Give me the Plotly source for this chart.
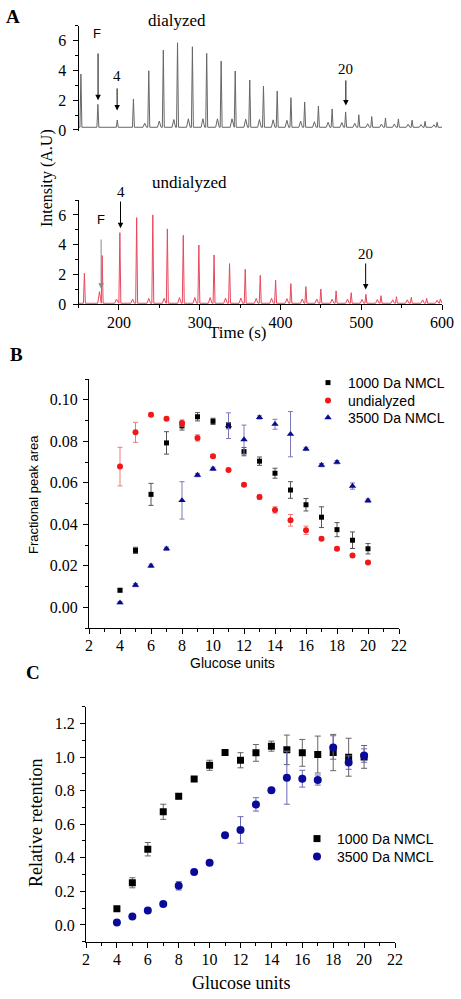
import plotly.graph_objects as go

# ---------------- Panel A data (peak apex times / heights) ----------------
dial_t = [153, 174, 198, 218, 237, 255, 272.6, 291, 308.7, 326.6, 344, 362, 379, 396, 413,
          430, 447, 464, 480.7, 497, 513, 530, 546, 563, 579, 594]
dial_h = [3.76, 1.72, 0.67, 2.08, 3.98, 5.37, 5.86, 5.59, 5.15, 4.63, 3.96, 3.36, 2.95, 2.62,
          2.17, 1.88, 1.61, 1.41, 1.21, 1.02, 0.9, 0.8, 0.74, 0.66, 0.58, 0.52]
dial_small_t = [232, 250, 268, 286, 304, 322, 340, 357, 374, 391, 408, 425, 442, 459, 476,
                492, 508, 525, 541, 558, 574, 590]
dial_small_h = [0.45, 0.6, 0.7, 0.75, 0.75, 0.75, 0.75, 0.72, 0.7, 0.68, 0.65, 0.6, 0.55,
                0.52, 0.5, 0.45, 0.42, 0.4, 0.4, 0.38, 0.36, 0.35]
dial_base = 0.18

und_t = [157.3, 179.3, 201.2, 222, 242, 260, 279.7, 299, 317.8, 337, 356.4, 375, 394, 412.9,
         431.5, 450, 468.9, 487.6, 505.8, 524.5, 543.6, 562, 581, 598]
und_h = [2.08, 3.27, 4.81, 5.82, 6.0, 5.06, 4.63, 3.98, 3.31, 2.73, 2.35, 1.95, 1.63, 1.39,
         1.19, 1.03, 0.9, 0.78, 0.67, 0.58, 0.51, 0.47, 0.4, 0.36]
und_small_t = [176, 197, 217, 237, 256, 275, 294, 313, 332, 351, 370, 389, 408, 427, 445, 464,
               483, 501, 520, 539, 557, 576, 594]
und_small_h = [0.85, 0.35, 0.35, 0.4, 0.4, 0.45, 0.45, 0.45, 0.42, 0.42, 0.4, 0.4, 0.38, 0.36,
               0.35, 0.35, 0.35, 0.33, 0.32, 0.3, 0.3, 0.3, 0.28]
und_base = 0.07

# ---------------- Panel B data ----------------
glucose = list(range(4, 21))
b_1000 = [0.0082, 0.0274, 0.0544, 0.0792, 0.0874, 0.0918, 0.0896, 0.0875, 0.075, 0.0704,
          0.0646, 0.0565, 0.0494, 0.0434, 0.0374, 0.0323, 0.0282]
b_1000_err = [0.0008, 0.0015, 0.0053, 0.0054, 0.002, 0.002, 0.0015, 0.0015, 0.002, 0.002,
              0.0024, 0.004, 0.003, 0.005, 0.0034, 0.004, 0.0025]
b_und = [0.0678, 0.0843, 0.0928, 0.0909, 0.0888, 0.0816, 0.0728, 0.0661, 0.059, 0.0531,
         0.0469, 0.0419, 0.0371, 0.033, 0.0282, 0.025, 0.0216]
b_und_err = [0.0093, 0.0048, 0.0008, 0.0008, 0.0015, 0.0015, 0.0008, 0.0006, 0.0006, 0.001,
             0.0015, 0.0028, 0.002, 0.0008, 0.0008, 0.0006, 0.0006]
b_3500 = [0.0022, 0.0107, 0.02, 0.0282, 0.0515, 0.0637, 0.0667, 0.0875, 0.0808, 0.0915,
          0.0882, 0.0834, 0.0763, 0.0685, 0.0699, 0.0584, 0.0514]
b_3500_err = [0.0005, 0.0008, 0.0008, 0.0008, 0.009, 0.0008, 0.0008, 0.0062, 0.007, 0.0008,
              0.0024, 0.0109, 0.0008, 0.0008, 0.0008, 0.0015, 0.0008]

# ---------------- Panel C data ----------------
c_1000 = [0.096, 0.251, 0.451, 0.674, 0.766, 0.869, 0.951, 1.027, 0.981, 1.025, 1.065, 1.043,
          1.025, 1.015, 1.027, 0.999, 1.001]
c_1000_err = [0.01, 0.03, 0.04, 0.045, 0.015, 0.015, 0.03, 0.01, 0.045, 0.05, 0.03, 0.088,
              0.08, 0.11, 0.108, 0.113, 0.068]
c_3500 = [0.014, 0.05, 0.086, 0.124, 0.233, 0.315, 0.371, 0.534, 0.566, 0.718, 0.802, 0.877,
          0.871, 0.863, 1.057, 0.967, 1.009]
c_3500_err = [0.005, 0.005, 0.005, 0.005, 0.025, 0.005, 0.005, 0.005, 0.079, 0.04, 0.005,
              0.158, 0.05, 0.03, 0.07, 0.04, 0.04]

SERIF = "Liberation Serif, Times New Roman, serif"
SANS = "Liberation Sans, Arial, sans-serif"


def chromatogram(main_t, main_h, small_t, small_h, base, t0=150, t1=600):
    peaks = sorted([(t, h, 1.2) for t, h in zip(main_t, main_h)] +
                   [(t, h, 2.2) for t, h in zip(small_t, small_h)])
    xs, ys = [t0], [base]
    for t, h, hw in peaks:
        xs += [t - hw, t, t + hw]
        ys += [base, h, base]
    xs.append(t1)
    ys.append(base)
    return xs, ys


W, H = 461, 999


def px_x(a, b):
    return [a / W, b / W]


def px_y(top, bottom):
    return [1 - bottom / H, 1 - top / H]


fig = go.Figure()

dx, dy = chromatogram(dial_t, dial_h, dial_small_t, dial_small_h, dial_base)
ux, uy = chromatogram(und_t, und_h, und_small_t, und_small_h, und_base)

fig.add_trace(go.Scatter(x=dx, y=dy, mode="lines", line=dict(color="#666666", width=1),
                         xaxis="x", yaxis="y", showlegend=False))
fig.add_trace(go.Scatter(x=ux, y=uy, mode="lines", line=dict(color="#e8485e", width=1),
                         xaxis="x2", yaxis="y2", showlegend=False))

# Panel B
fig.add_trace(go.Scatter(x=glucose, y=b_1000, mode="markers", name="1000 Da NMCL",
                         marker=dict(symbol="square", size=5, color="black"),
                         error_y=dict(type="data", array=b_1000_err, color="#555555",
                                      thickness=1, width=2.5),
                         xaxis="x3", yaxis="y3", legend="legend"))
fig.add_trace(go.Scatter(x=glucose, y=b_und, mode="markers", name="undialyzed",
                         marker=dict(symbol="circle", size=6, color="#f01818"),
                         error_y=dict(type="data", array=b_und_err, color="#f07878",
                                      thickness=1, width=2.5),
                         xaxis="x3", yaxis="y3", legend="legend2"))
fig.add_trace(go.Scatter(x=glucose, y=b_3500, mode="markers", name="3500 Da NMCL",
                         marker=dict(symbol="triangle-up", size=6.5, color="#0a0a8c"),
                         error_y=dict(type="data", array=b_3500_err, color="#7a7ab8",
                                      thickness=1, width=2.5),
                         xaxis="x3", yaxis="y3", legend="legend3"))

# Panel C
fig.add_trace(go.Scatter(x=glucose, y=c_1000, mode="markers", name="1000 Da NMCL",
                         marker=dict(symbol="square", size=7, color="black"),
                         error_y=dict(type="data", array=c_1000_err, color="#666666",
                                      thickness=1, width=3),
                         xaxis="x4", yaxis="y4", legend="legend4"))
fig.add_trace(go.Scatter(x=glucose, y=c_3500, mode="markers", name="3500 Da NMCL",
                         marker=dict(symbol="circle", size=8, color="#0a0a9a"),
                         error_y=dict(type="data", array=c_3500_err, color="#6a6ab8",
                                      thickness=1, width=3),
                         xaxis="x4", yaxis="y4", legend="legend5"))


def axis_common(size, standoff):
    return dict(showline=True, linecolor="black", linewidth=1, ticks="outside",
                tickcolor="black", ticklen=5, showgrid=False, zeroline=False,
                automargin=False, ticklabelstandoff=standoff,
                tickfont=dict(family=SERIF, size=size, color="black"))


def minor(**kw):
    return dict(ticks="outside", ticklen=3, tickcolor="black", **kw)


def leg(x, y, size):
    return dict(x=x / W, y=1 - y / H, xanchor="left", yanchor="middle",
                bgcolor="rgba(0,0,0,0)", font=dict(family=SANS, size=size, color="black"),
                tracegroupgap=0, itemsizing="trace")


fig.update_layout(
    width=W, height=H, margin=dict(l=0, r=0, t=0, b=0, autoexpand=False),
    paper_bgcolor="white", plot_bgcolor="rgba(0,0,0,0)",
    # Panel A top
    xaxis=dict(domain=px_x(78.5, 442), range=[150, 600], visible=False),
    yaxis=dict(domain=px_y(25.8, 131), range=[-0.07, 7], anchor="x",
               tickvals=[0, 2, 4, 6], minor=minor(dtick=1), **axis_common(16, 3)),
    # Panel A bottom
    xaxis2=dict(domain=px_x(78.5, 442), range=[150, 600], anchor="y2",
                tickvals=[200, 300, 400, 500, 600],
                minor=minor(tickvals=[150, 250, 350, 450, 550]), **axis_common(16, -2)),
    yaxis2=dict(domain=px_y(200, 304.3), range=[0, 7], anchor="x2",
                tickvals=[0, 2, 4, 6], minor=minor(dtick=1), **axis_common(16, 3)),
    # Panel B
    xaxis3=dict(domain=px_x(89, 399), range=[2, 22], anchor="y3", dtick=2,
                minor=minor(dtick=1), **axis_common(16, -2)),
    yaxis3=dict(domain=px_y(379, 628), range=[-0.01, 0.11], anchor="x3", dtick=0.02,
                tickformat=".2f", minor=minor(dtick=0.01), **axis_common(16, 2)),
    # Panel C
    xaxis4=dict(domain=px_x(86, 395), range=[2, 22], anchor="y4", dtick=2,
                minor=minor(dtick=1), **axis_common(16, -2)),
    yaxis4=dict(domain=px_y(706.7, 941.7), range=[-0.1, 1.3], anchor="x4", dtick=0.2,
                tickformat=".1f", minor=minor(dtick=0.1), **axis_common(16, 2)),
    legend=leg(308, 383, 14),
    legend2=leg(308, 401, 14),
    legend3=leg(308, 418, 14),
    legend4=leg(297, 839, 14),
    legend5=leg(297, 857, 14),
)

ann = []


def text_px(x, y, s, size, family=SERIF, bold=False, angle=0):
    ann.append(dict(xref="paper", yref="paper", x=x / W, y=1 - y / H,
                    text=f"<b>{s}</b>" if bold else s,
                    showarrow=False, xanchor="center", yanchor="middle", textangle=angle,
                    font=dict(family=family, size=size, color="black")))


def arrow(xa, ya, t, tail, head, color="black"):
    ann.append(dict(xref=xa, yref=ya, axref=xa, ayref=ya, x=t, y=head, ax=t, ay=tail, text="",
                    showarrow=True, arrowhead=2, arrowsize=1.1, arrowwidth=1, arrowcolor=color))


# Panel letters
text_px(13, 17, "A", 19, bold=True)
text_px(16, 354, "B", 19, bold=True)
text_px(33, 672, "C", 19, bold=True)

# Panel A texts
text_px(177, 21, "dialyzed", 17)
text_px(189, 182, "undialyzed", 17)
text_px(47, 178, "Intensity (A.U)", 16, angle=-90)
text_px(237, 332, "Time (s)", 17)

# arrows + labels, top
text_px(97, 33, "F", 13, family=SANS)
arrow("x", "y", 174.2, 5.24, 2.0)
text_px(116.5, 76, "4", 15)
arrow("x", "y", 197.8, 2.89, 1.3)
text_px(345, 69, "20", 15)
arrow("x", "y", 481, 3.43, 1.65)
# arrows + labels, bottom
text_px(101, 219, "F", 13, family=SANS)
arrow("x2", "y2", 178, 4.45, 1.05, color="#888888")
text_px(120.5, 192, "4", 15)
arrow("x2", "y2", 202, 7.0, 5.1)
text_px(365, 254, "20", 15)
arrow("x2", "y2", 505.5, 2.84, 1.0)

# Panel B titles
text_px(33, 495, "Fractional peak area", 13, family=SANS, angle=-90)
text_px(232, 663, "Glucose units", 14, family=SANS)

# Panel C titles
text_px(36, 823, "Relative retention", 18, angle=-90)
text_px(241, 983, "Glucose units", 18)

fig.update_layout(annotations=ann)

fig.write_html("out.html",
               config={"displayModeBar": False},
               post_script="document.body.style.margin='0px';"
                           "document.body.style.overflow='hidden';")
